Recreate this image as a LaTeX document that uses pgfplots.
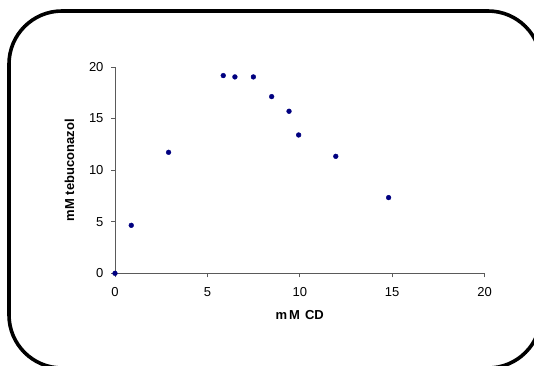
\documentclass[border=0pt]{standalone}
\usepackage{pgfplots}
\pgfplotsset{compat=1.18}
\usepackage{fontspec}
\setmainfont{Liberation Sans}
\definecolor{navy}{RGB}{0,0,128}
\definecolor{axgray}{RGB}{90,90,90}
\begin{document}
\begin{tikzpicture}[x=1pt,y=1pt]
\useasboundingbox (0,0) rectangle (534,365);
\begin{scope}
\clip (0,0) rectangle (534,365);
\draw[line width=3.6pt, rounded corners=53pt] (9,-3) rectangle (541,354);
\end{scope}
\begin{axis}[
  at={(115pt,91.7pt)}, anchor=south west,
  scale only axis, width=369.5pt, height=206.3pt,
  xmin=0, xmax=20, ymin=0, ymax=20,
  axis x line*=bottom, axis y line*=left,
  axis line style={axgray, line width=0.8pt},
  xtick={0,5,10,15,20}, ytick={0,5,10,15,20},
  tick style={axgray, line width=0.8pt},
  tick align=outside, major tick length=4pt,
  /pgf/number format/assume math mode=true,
  ticklabel style={font=\fontsize{13}{15}\selectfont},
  xticklabel style={yshift=-7pt},
  yticklabel style={xshift=-4pt},
  xlabel={\textbf{m\hspace{2pt}M\hspace{5pt}CD}}, ylabel={\textbf{mM tebuconazol}},
  label style={font=\fontsize{13}{15}\selectfont},
  xlabel style={yshift=-7pt},
  ylabel style={yshift=8pt},
  clip=false,
]
\addplot[only marks, mark=*, mark size=2.4pt, color=navy] coordinates {
(0,0) (0.88,4.65) (2.9,11.73) (5.86,19.17) (6.49,19.04) (7.49,19.04)
(8.48,17.13) (9.42,15.71) (9.94,13.41) (11.95,11.34) (14.81,7.34)
};
\end{axis}
\end{tikzpicture}
\end{document}
